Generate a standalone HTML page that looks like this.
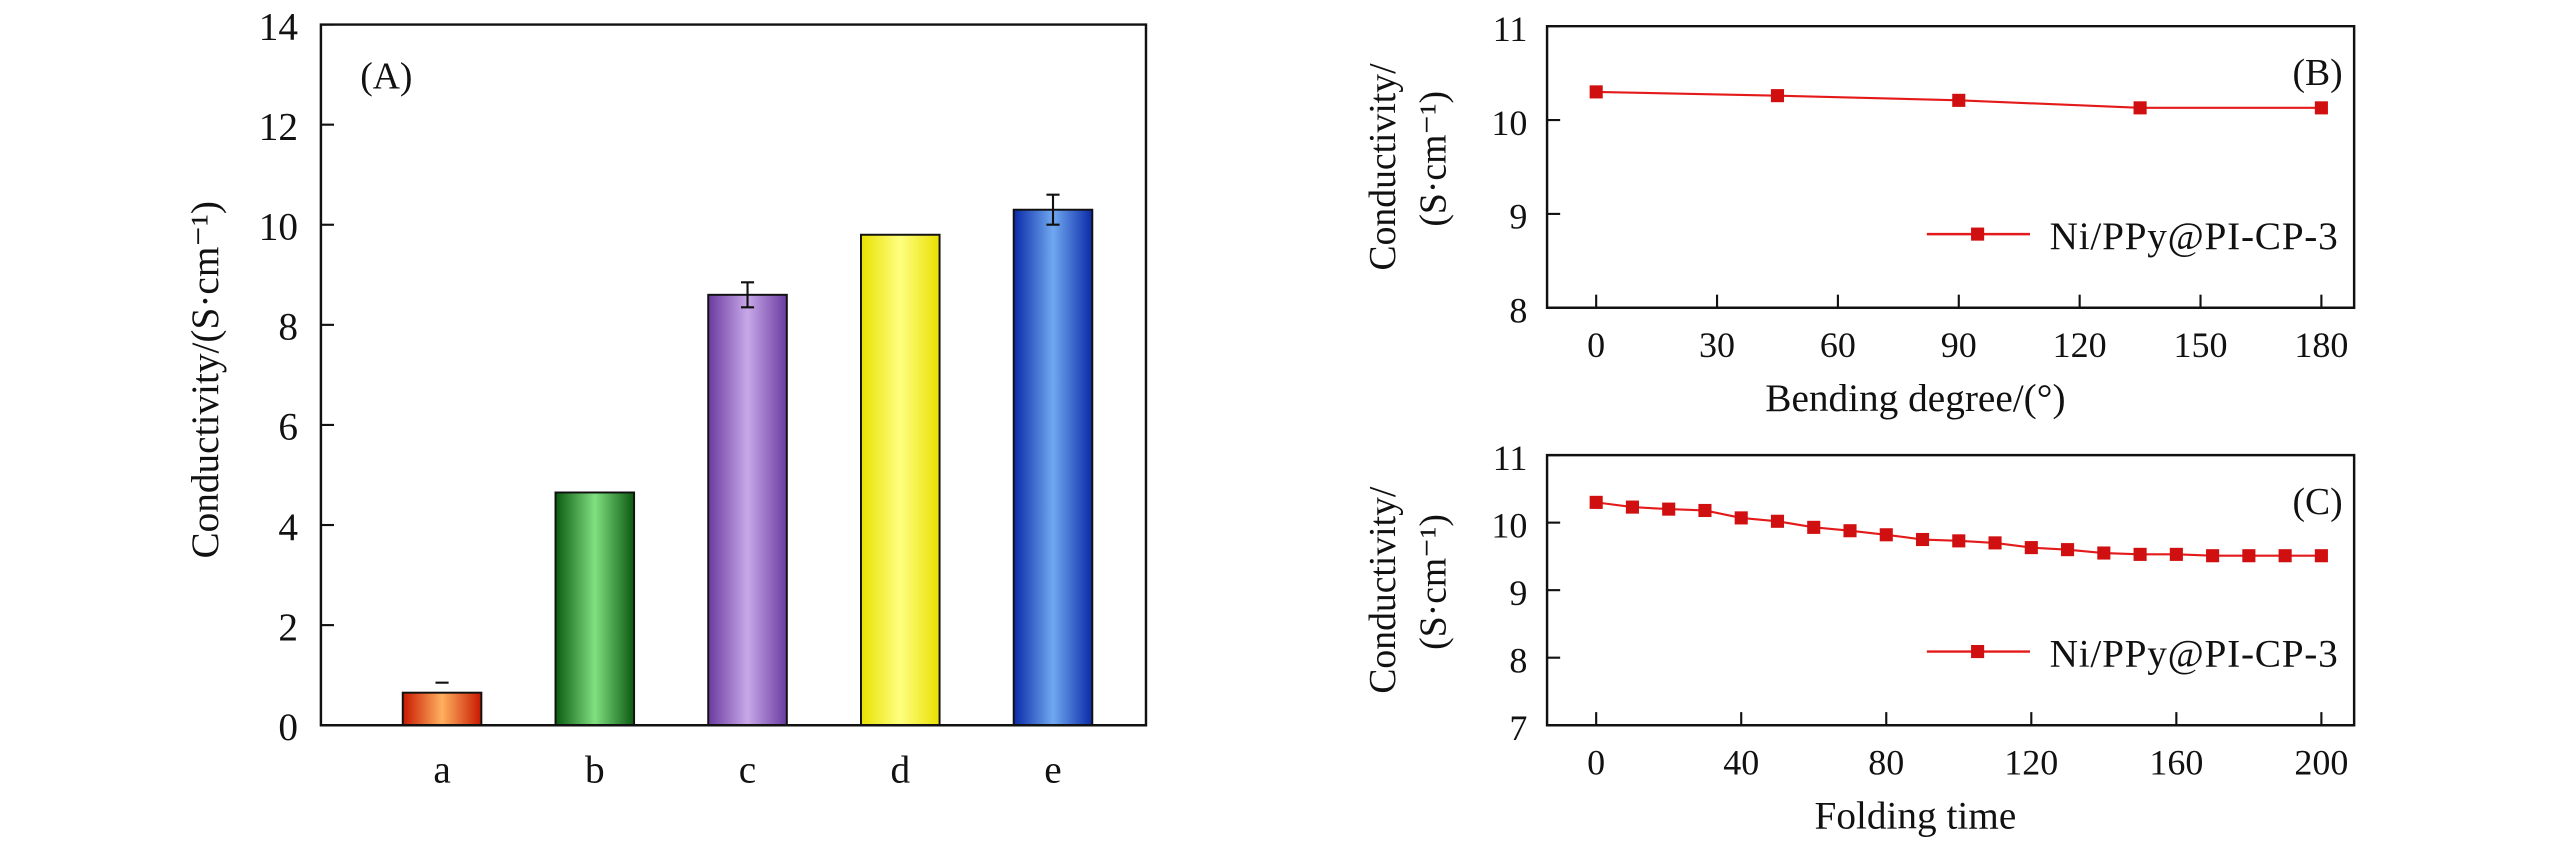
<!DOCTYPE html>
<html><head><meta charset="utf-8"><style>
html,body{margin:0;padding:0;background:#fff;}
svg{display:block;font-family:"Liberation Serif",serif;}
</style></head><body>
<svg id="fig" width="2567" height="866" viewBox="0 0 1568 529" xmlns="http://www.w3.org/2000/svg">
<defs>
<linearGradient id="gA" x1="0" x2="1"><stop offset="0" stop-color="#c81800"/><stop offset="0.5" stop-color="#ffb060"/><stop offset="1" stop-color="#c81800"/></linearGradient>
<linearGradient id="gB" x1="0" x2="1"><stop offset="0" stop-color="#0a5a10"/><stop offset="0.5" stop-color="#80e080"/><stop offset="1" stop-color="#0a5a10"/></linearGradient>
<linearGradient id="gC" x1="0" x2="1"><stop offset="0" stop-color="#6a3aa0"/><stop offset="0.5" stop-color="#c8a8e8"/><stop offset="1" stop-color="#6a3aa0"/></linearGradient>
<linearGradient id="gD" x1="0" x2="1"><stop offset="0" stop-color="#e8e000"/><stop offset="0.5" stop-color="#ffff80"/><stop offset="1" stop-color="#e8e000"/></linearGradient>
<linearGradient id="gE" x1="0" x2="1"><stop offset="0" stop-color="#0a2aa8"/><stop offset="0.5" stop-color="#70a8f0"/><stop offset="1" stop-color="#0a2aa8"/></linearGradient>
</defs>
</svg>
<script>
const barCats=['a','b','c','d','e'];
const barVals=[0.65,4.65,8.6,9.8,10.3];
const barErr=[0.2,0,0.25,0,0.3];
const barFills=['url(#gA)','url(#gB)','url(#gC)','url(#gD)','url(#gE)'];
const aTicks=[0,2,4,6,8,10,12,14];
const bX=[0,45,90,135,180];
const bY=[10.3,10.26,10.21,10.13,10.13];
const bXTicks=[0,30,60,90,120,150,180];
const bYTicks=[8,9,10,11];
const cX=[0,10,20,30,40,50,60,70,80,90,100,110,120,130,140,150,160,170,180,190,200];
const cY=[10.3,10.23,10.2,10.18,10.07,10.02,9.93,9.88,9.82,9.75,9.73,9.7,9.63,9.6,9.55,9.53,9.53,9.51,9.51,9.51,9.51];
const cXTicks=[0,40,80,120,160,200];
const cYTicks=[7,8,9,10,11];

const svg=document.getElementById('fig');
const NS='http://www.w3.org/2000/svg';
function mk(tag,attrs,parent){const e=document.createElementNS(NS,tag);for(const k in attrs)e.setAttribute(k,attrs[k]);(parent||svg).appendChild(e);return e;}
function txt(s,x,y,size,anchor,parent){const t=mk('text',{x:x,y:y,'font-size':size,'text-anchor':anchor||'middle',fill:'#111'},parent);t.textContent=s;return t;}

// Panel A
const gA=mk('g',{});


const AL=196,AR=700,AT=15,AB=443;
const ay=v=>AB-(v-0)/(14-0)*(AB-AT);
const ax=i=>270+i*93.3;
barVals.forEach((v,i)=>{
  const r=mk('rect',{x:ax(i)-24,y:ay(v),width:48,height:AB-ay(v),fill:barFills[i],stroke:'#111','stroke-width':1.2},gA);
  
  
  if(barErr[i]>0){
    const d = i===0 ? `M${ax(i)-4} ${ay(v+barErr[i])}h8` :
      `M${ax(i)} ${ay(v+barErr[i])}V${ay(v-barErr[i])}M${ax(i)-4} ${ay(v+barErr[i])}h8M${ax(i)-4} ${ay(v-barErr[i])}h8`;
    const e=mk('path',{d:d,stroke:'#111','stroke-width':1.3,fill:'none'},gA);
    
    
  }
  const l=txt(barCats[i],ax(i),478,24,'middle',gA);
  
  
});
aTicks.forEach(t=>{
  mk('line',{x1:AL,x2:AL+8,y1:ay(t),y2:ay(t),stroke:'#111','stroke-width':1.3},gA);
  const l=txt(String(t),AL-14,ay(t)+9,24,'end',gA);
  
  
});
const fA=mk('path',{d:`M${AL} ${AT}H${AR}V${AB}H${AL}Z`,fill:'none',stroke:'#111','stroke-width':1.5},gA);


const la=txt('(A)',220,54,23,'start',gA);


const yta=txt('Conductivity/(S·cm⁻¹)',0,0,24,'middle',gA);
yta.setAttribute('transform','translate(133,232) rotate(-90)');



function linePanel(name,L,R,T,B,xmin,xmax,ymin,ymax,xs,ys,xt,yt,xtitle,plabel){
  const g=mk('g',{});
  
  
  const X=v=>975+(v-xmin)/(xmax-xmin)*(1418-975);
  const Y=v=>B-(v-ymin)/(ymax-ymin)*(B-T);
  xt.forEach(t=>{
    mk('line',{x1:X(t),x2:X(t),y1:B,y2:B-8,stroke:'#111','stroke-width':1.3},g);
    const l=txt(String(t),X(t),B+30,22,'middle',g);
    
    
  });
  yt.forEach(t=>{
    mk('line',{x1:L,x2:L+8,y1:Y(t),y2:Y(t),stroke:'#111','stroke-width':1.3},g);
    const l=txt(String(t),L-12,Y(t)+9,22,'end',g);
    
    
  });
  const p=mk('polyline',{points:xs.map((x,i)=>X(x)+','+Y(ys[i])).join(' '),fill:'none',stroke:'#e41a1a','stroke-width':1.3},g);
  
  
  xs.forEach((x,i)=>{
    const m=mk('rect',{x:X(x)-4,y:Y(ys[i])-4,width:8,height:8,fill:'#d01010'},g);
    
    
  });
  const f=mk('path',{d:`M${L} ${T}H${R}V${B}H${L}Z`,fill:'none',stroke:'#111','stroke-width':1.5},g);
  
  
  const pl=txt(plabel,1431,T+36,23,'end',g);
  
  
  const lg=mk('g',{},g);
  
  
  const ly=B-45;
  mk('line',{x1:1177,x2:1240,y1:ly,y2:ly,stroke:'#e41a1a','stroke-width':1.5},lg);
  mk('rect',{x:1204,y:ly-4,width:8,height:8,fill:'#d01010'},lg);
  const lt=txt('Ni/PPy@PI-CP-3',1428,ly+9,24,'end',lg);
  lt.setAttribute('textLength','176');
  const xtl=txt(xtitle,1170,B+63,24,'middle',g);
  
  
  const cy=(T+B)/2;
  const y1=txt('Conductivity/',0,0,23,'middle',g);
  y1.setAttribute('transform',`translate(852,${cy}) rotate(-90)`);
  
  
  const y2=txt('(S·cm⁻¹)',0,0,23,'middle',g);
  y2.setAttribute('transform',`translate(883,${cy-5}) rotate(-90)`);
  
  
}
linePanel('b',945,1438,16,188,0,180,8,11,bX,bY,bXTicks,bYTicks,'Bending degree/(°)','(B)');
linePanel('c',945,1438,278,443,0,200,7,11,cX,cY,cXTicks,cYTicks,'Folding time','(C)');
</script>
</body></html>
